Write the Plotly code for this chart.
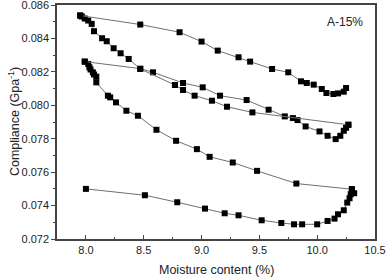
import plotly.graph_objects as go

# Wetting 1 (bottom curve)
wet1_x = [8.00, 8.51, 8.79, 9.03, 9.20, 9.32, 9.52, 9.69, 9.80, 9.87, 10.00, 10.09, 10.15, 10.18, 10.23, 10.26, 10.28, 10.29, 10.32, 10.30]
wet1_y = [0.0750, 0.07462, 0.0742, 0.07382, 0.07354, 0.07342, 0.07312, 0.07296, 0.07288, 0.07288, 0.07288, 0.07308, 0.07322, 0.07348, 0.07372, 0.07418, 0.07444, 0.07468, 0.07474, 0.07498]

# Drying 1
dry1_x = [10.30, 9.82, 9.48, 9.27, 9.07, 8.96, 8.78, 8.61, 8.45, 8.35, 8.26, 8.21, 8.19, 8.09, 8.09, 8.07, 8.06, 8.04, 8.03, 8.02, 7.99]
dry1_y = [0.07498, 0.07532, 0.07608, 0.07658, 0.07692, 0.07738, 0.07788, 0.07854, 0.07938, 0.07968, 0.08018, 0.08048, 0.08058, 0.08138, 0.08172, 0.08185, 0.08198, 0.08215, 0.08228, 0.08248, 0.08262]

# Wetting 2
wet2_x = [7.99, 8.47, 8.58, 8.84, 9.01, 9.16, 9.39, 9.58, 9.72, 9.79, 9.83, 9.90, 10.02, 10.09, 10.16, 10.20, 10.23, 10.25, 10.27]
wet2_y = [0.08262, 0.0822, 0.08198, 0.08134, 0.08108, 0.08058, 0.08032, 0.07974, 0.07934, 0.07924, 0.07912, 0.07874, 0.07844, 0.07818, 0.07798, 0.07818, 0.07848, 0.07866, 0.07884]

# Drying 2
dry2_x = [10.27, 9.44, 9.22, 9.09, 8.94, 8.84, 8.77, 8.47, 8.37, 8.30, 8.24, 8.18, 8.14, 8.07, 8.05, 8.02, 7.99, 7.965, 7.95]
dry2_y = [0.07884, 0.07958, 0.07992, 0.08028, 0.08058, 0.08092, 0.08122, 0.08218, 0.08278, 0.08312, 0.08342, 0.08384, 0.08402, 0.08444, 0.08488, 0.08508, 0.0852, 0.08532, 0.08538]

# Wetting 3 (top curve)
wet3_x = [7.95, 8.47, 8.81, 9.00, 9.14, 9.32, 9.42, 9.61, 9.75, 9.86, 9.91, 9.97, 10.04, 10.08, 10.14, 10.18, 10.23, 10.25]
wet3_y = [0.08538, 0.08484, 0.08438, 0.08382, 0.08328, 0.08288, 0.08262, 0.08218, 0.08198, 0.08144, 0.08134, 0.08124, 0.08098, 0.08074, 0.08068, 0.08072, 0.08082, 0.08104]

x_ticks = [8.0, 8.5, 9.0, 9.5, 10.0, 10.5]
y_ticks = [0.072, 0.074, 0.076, 0.078, 0.080, 0.082, 0.084, 0.086]

segments = [(wet1_x, wet1_y), (dry1_x, dry1_y), (wet2_x, wet2_y), (dry2_x, dry2_y), (wet3_x, wet3_y)]

fig = go.Figure()
for sx, sy in segments:
    fig.add_trace(go.Scatter(
        x=sx, y=sy, mode="lines+markers",
        line=dict(color="#707070", width=1),
        marker=dict(symbol="square", size=6, color="black"),
        showlegend=False, hoverinfo="skip",
    ))

FONT = "Liberation Sans, Arial, sans-serif"
font = dict(family=FONT, color="#222", size=11)

fig.update_layout(
    width=387, height=277,
    margin=dict(l=57, r=12, t=5, b=38),
    plot_bgcolor="white", paper_bgcolor="white",
    font=font,
    xaxis=dict(
        range=[7.75, 10.5001], tickvals=x_ticks, ticktext=[f"{v:.1f}" for v in x_ticks],
        showgrid=False, zeroline=False, automargin=False, ticklabeloverflow="allow",
        showline=True, linecolor="#444", linewidth=1.5, mirror=True,
        ticks="inside", ticklen=4, tickcolor="#444",
        minor=dict(dtick=0.25, tick0=7.75, ticks="inside", ticklen=2, tickcolor="#444"),
    ),
    yaxis=dict(
        range=[0.072, 0.08601], tickvals=y_ticks, ticktext=[f"{v:.3f}" for v in y_ticks],
        showgrid=False, zeroline=False, automargin=False, ticklabeloverflow="allow",
        showline=True, linecolor="#444", linewidth=1.5, mirror=True,
        ticks="outside", ticklen=4, tickcolor="#444",
        minor=dict(dtick=0.001, tick0=0.072, ticks="outside", ticklen=2, tickcolor="#444"),
    ),
    annotations=[
        dict(x=0.97, y=0.965, xref="paper", yref="paper", xanchor="right", yanchor="top",
             text="A-15%", showarrow=False, font=dict(family=FONT, size=12, color="#222")),
        dict(x=0.5, y=-0.1325, xref="paper", yref="paper", xanchor="center", yanchor="middle",
             text="Moisture content (%)", showarrow=False, font=dict(family=FONT, size=12.5, color="#222")),
        dict(x=-0.135, y=0.5, xref="paper", yref="paper", xanchor="center", yanchor="middle",
             text="Compliance (Gpa<sup>-1</sup>)", textangle=-90, showarrow=False,
             font=dict(family=FONT, size=12.5, color="#222")),
    ],
)

fig.write_html("out.html", config={"displayModeBar": False},
               post_script="document.body.style.margin='0';document.body.style.overflow='hidden';")
